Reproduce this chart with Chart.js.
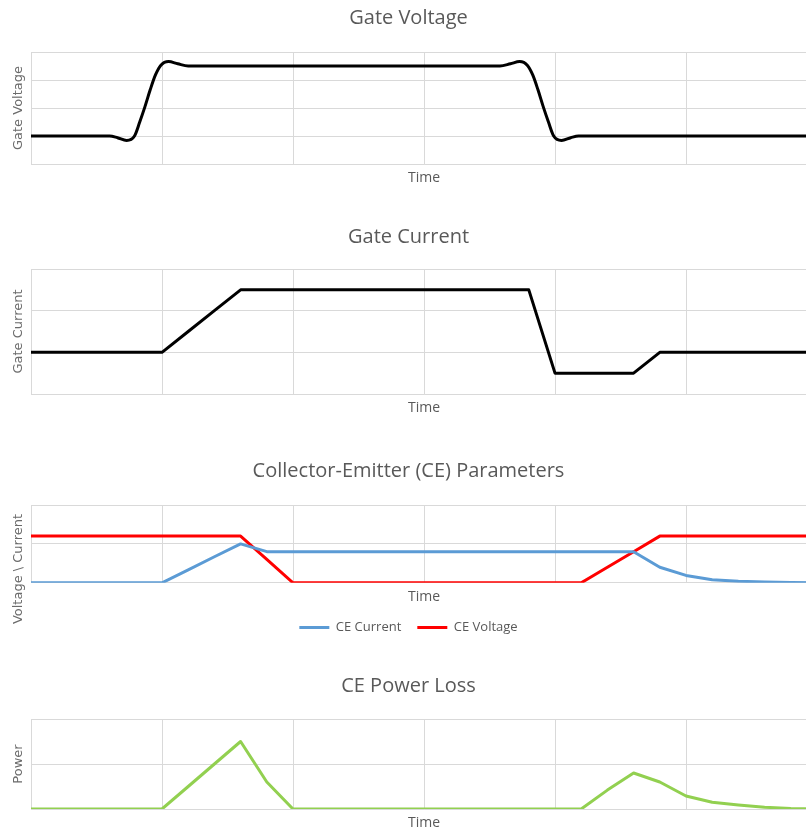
<!DOCTYPE html>
<html>
<head>
<meta charset="utf-8">
<title>IGBT switching waveforms</title>
<script src="https://cdn.jsdelivr.net/npm/chart.js@4.4.1/dist/chart.umd.min.js"></script>
<style>
  html, body { margin: 0; padding: 0; background: #fff; overflow: hidden; }
  .box { position: absolute; left: 0; width: 822px; }
</style>
</head>
<body>
<div class="box" style="top:0px;height:188px"><canvas id="gateVoltage"></canvas></div>
<div class="box" style="top:219px;height:199px"><canvas id="gateCurrent"></canvas></div>
<div class="box" style="top:453px;height:191px"><canvas id="ceParams"></canvas></div>
<div class="box" style="top:668px;height:165px"><canvas id="powerLoss"></canvas></div>
<script>
'use strict';

// time axis (one gridline every 1.0)
var times = [0, 0.2, 0.4, 0.6, 0.8, 1.0, 1.2, 1.4, 1.6, 1.8, 2.0, 2.2, 2.4, 2.6, 2.8, 3.0,
	3.2, 3.4, 3.6, 3.8, 4.0, 4.2, 4.4, 4.6, 4.8, 5.0, 5.2, 5.4, 5.6, 5.8, 6.0];

// gate voltage (ringing included)
var gvTimes = [0, 0.4, 0.6, 0.66, 0.73, 0.79, 0.83, 0.87, 0.91, 0.95, 0.99, 1.05, 1.12, 1.2, 1.4,
	3.4, 3.58, 3.66, 3.73, 3.79, 3.83, 3.87, 3.91, 3.95, 3.99, 4.05, 4.12, 4.18, 4.4, 6.0];
var gateVoltage = [0, 0, 0, -0.06, -0.16, 0, 0.5, 1.05, 1.65, 2.18, 2.52, 2.66, 2.58, 2.5, 2.5,
	2.5, 2.5, 2.58, 2.66, 2.52, 2.18, 1.65, 1.05, 0.5, 0, -0.16, -0.06, 0, 0, 0];

var gateCurrent = [0, 0, 0, 0, 0, 0, 0.5, 1.0, 1.5, 1.5, 1.5, 1.5, 1.5, 1.5, 1.5, 1.5,
	1.5, 1.5, 1.5, 1.5, -0.5, -0.5, -0.5, -0.5, 0, 0, 0, 0, 0, 0, 0];

var ceCurrent = [0, 0, 0, 0, 0, 0, 0.33, 0.67, 1.0, 0.8, 0.8, 0.8, 0.8, 0.8, 0.8, 0.8,
	0.8, 0.8, 0.8, 0.8, 0.8, 0.8, 0.8, 0.8, 0.4, 0.19, 0.08, 0.04, 0.02, 0.01, 0];

var ceVoltage = [1.2, 1.2, 1.2, 1.2, 1.2, 1.2, 1.2, 1.2, 1.2, 0.6, 0, 0, 0, 0, 0, 0,
	0, 0, 0, 0, 0, 0, 0.4, 0.8, 1.2, 1.2, 1.2, 1.2, 1.2, 1.2, 1.2];

var powerLoss = [0, 0, 0, 0, 0, 0, 0.5, 1.0, 1.5, 0.6, 0, 0, 0, 0, 0, 0,
	0, 0, 0, 0, 0, 0, 0.42, 0.8, 0.6, 0.29, 0.15, 0.09, 0.04, 0.01, 0];

var gridColor = '#d9d9d9';
var textColor = '#595959';
var yTitleColor = '#6b6b6b';
var yTitleFont = "'DejaVu Sans', sans-serif";

Chart.defaults.font.family = "'Open Sans', sans-serif";

// rotated y title for the CE chart, Excel centres it lower than the plot
var ceAxisTitle = 'Voltage \\ Current';
var sideTitle = {
	id: 'sideTitle',
	afterDraw: function(chart) {
		var ctx = chart.ctx;
		ctx.save();
		ctx.translate(19, 116);
		ctx.rotate(-Math.PI / 2);
		ctx.font = '13px ' + yTitleFont;
		ctx.fillStyle = yTitleColor;
		ctx.textAlign = 'center';
		ctx.textBaseline = 'middle';
		ctx.fillText(ceAxisTitle, 0, 0);
		ctx.restore();
	}
};

function series(label, data, color) {
	return {
		label: label,
		data: data,
		borderColor: color,
		backgroundColor: color,
		pointBorderColor: color,
		pointBackgroundColor: color,
		pointBorderWidth: 3
	};
}

function makeChart(id, datasets, o) {
	return new Chart(document.getElementById(id), {
		type: 'line',
		data: { labels: times, datasets: datasets },
		plugins: o.plugins || [],
		options: {
			responsive: true,
			maintainAspectRatio: false,
			animation: false,
			layout: { padding: { left: 0, right: 5, top: 0, bottom: 0 } },
			elements: {
				point: { radius: 0 },
				line: { borderWidth: 3, tension: 0, borderJoinStyle: 'round' }
			},
			plugins: {
				title: {
					display: true,
					text: o.title,
					color: textColor,
					font: { size: 20, weight: 'normal' },
					padding: { top: 6.2, bottom: o.titleGap }
				},
				legend: o.legend || { display: false },
				tooltip: { enabled: false }
			},
			scales: {
				x: {
					type: 'linear',
					min: 0,
					max: 6,
					ticks: { display: false, stepSize: 1 },
					grid: { color: gridColor, drawTicks: false },
					border: { color: gridColor },
					title: {
						display: true,
						text: 'Time',
						color: textColor,
						font: { size: 14 },
						padding: { top: 5.4, bottom: o.timeGap }
					}
				},
				y: {
					min: o.yMin,
					max: o.yMax,
					ticks: { display: false, stepSize: 1 },
					grid: { color: gridColor, drawTicks: false },
					border: { color: gridColor },
					title: {
						display: !!o.yTitle,
						text: o.yTitle,
						color: yTitleColor,
						font: { size: 13, family: yTitleFont },
						padding: { top: 11, bottom: 4 }
					},
					afterFit: function(scale) { scale.width = 31; }
				}
			}
		}
	});
}

var gvSeries = series('Gate Voltage', gvTimes.map(function(t, i) {
	return { x: t, y: gateVoltage[i] };
}), '#000000');
gvSeries.tension = 0.4;
gvSeries.cubicInterpolationMode = 'monotone';

makeChart('gateVoltage', [gvSeries],
	{ title: 'Gate Voltage', yTitle: 'Gate Voltage', yMin: -1, yMax: 3, titleGap: 21.8, timeGap: 1.8 });

makeChart('gateCurrent', [series('Gate Current', gateCurrent, '#000000')],
	{ title: 'Gate Current', yTitle: 'Gate Current', yMin: -1, yMax: 2, titleGap: 19.8, timeGap: 1.8 });

makeChart('ceParams', [
	series('CE Current', ceCurrent, '#5b9bd5'),
	series('CE Voltage', ceVoltage, '#ff0000')
], {
	title: 'Collector-Emitter (CE) Parameters', yMin: 0, yMax: 2, titleGap: 21.8, timeGap: 0,
	plugins: [sideTitle],
	legend: {
		display: true,
		position: 'bottom',
		labels: {
			usePointStyle: true,
			pointStyle: 'line',
			pointStyleWidth: 30,
			color: textColor,
			font: { size: 13 },
			padding: 16
		}
	}
});

makeChart('powerLoss', [series('CE Power Loss', powerLoss, '#92d050')],
	{ title: 'CE Power Loss', yTitle: 'Power', yMin: 0, yMax: 2, titleGap: 20.8, timeGap: 1.8 });
</script>
</body>
</html>
